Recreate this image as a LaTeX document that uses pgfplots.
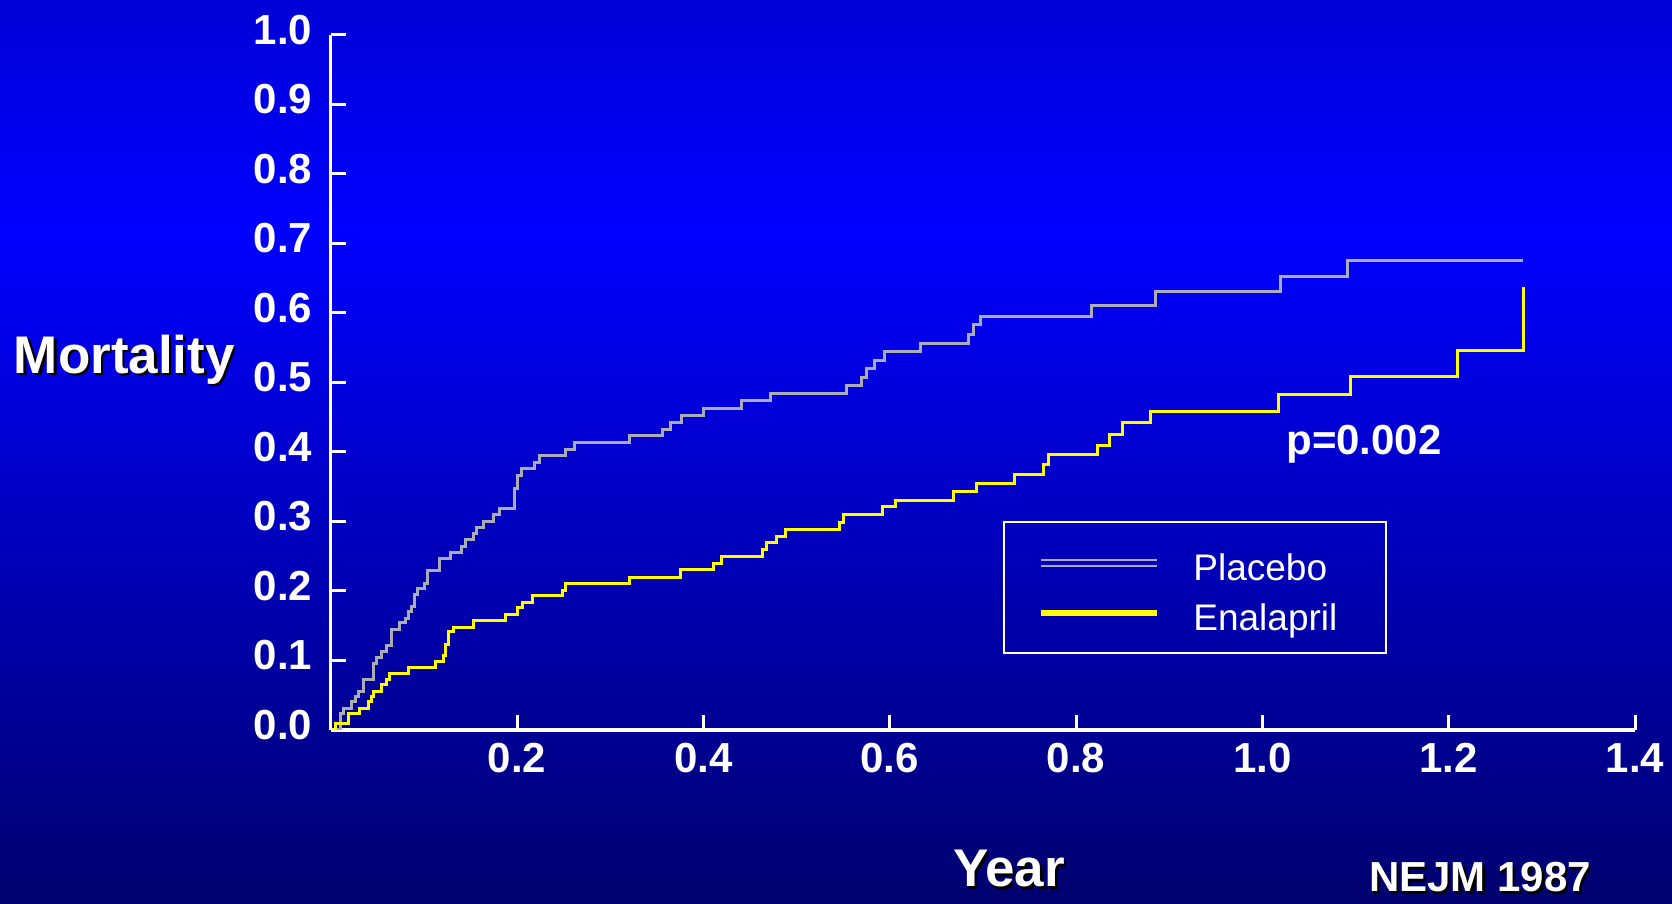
\documentclass[border=0pt]{standalone}
\usepackage{pgfplots}
\pgfplotsset{compat=1.18}
\usepackage{fontspec}
\setmainfont{Liberation Sans}
\definecolor{bgtop}{RGB}{0,0,215}
\definecolor{bgmid}{RGB}{0,0,255}
\definecolor{bgbot}{RGB}{0,0,110}
\definecolor{legbg}{RGB}{0,0,200}
\definecolor{plgray}{RGB}{172,172,182}
\definecolor{enyel}{RGB}{255,255,0}
\begin{document}
\begin{tikzpicture}
\useasboundingbox (0,0) rectangle (836pt,452pt);
\shade[top color=bgtop, bottom color=bgmid] (0,337pt) rectangle (836pt,452pt);
\shade[top color=bgmid, bottom color=bgbot] (0,0) rectangle (836pt,337.2pt);
\begin{axis}[
  at={(165.35pt,87pt)}, anchor=south west,
  scale only axis, width=652.2pt, height=347.5pt,
  xmin=0, xmax=1.4, ymin=0, ymax=1,
  axis x line=bottom, axis y line=left,
  axis line style={white, line width=1.75pt, -},
  tick style={white, line width=1.5pt},
  tick align=inside, major tick length=7.5pt,
  xtick={0.2,0.4,0.6,0.8,1.0,1.2,1.4},
  xticklabels={0.2,0.4,0.6,0.8,1.0,1.2,1.4},
  ytick={0,0.1,0.2,0.3,0.4,0.5,0.6,0.7,0.8,0.9,1.0},
  yticklabels={0.0,0.1,0.2,0.3,0.4,0.5,0.6,0.7,0.8,0.9,1.0},
  tick label style={font=\fontsize{21}{25}\selectfont\bfseries, text=white, inner sep=0pt},
  xticklabel style={anchor=north, yshift=-6.5pt},
  yticklabel style={anchor=east, xshift=-9pt, yshift=2.5pt},
  legend style={at={(axis cs:0.722,0.300)}, anchor=north west, draw=white, line width=1pt,
    fill=none, text=white, font=\fontsize{18.5}{22}\selectfont,
    inner xsep=16.3pt, inner ysep=8pt, row sep=0.5pt,
    cells={anchor=west, text height=19pt, text depth=4pt},
    /tikz/every odd column/.append style={column sep=14.2pt},
    /tikz/every even column/.append style={text width=78pt}},
]
\addplot[const plot, draw=plgray, line width=1.5pt,
  legend image code/.code={\draw[line width=1.2pt, draw=plgray, double=legbg, double distance=1.6pt] (0pt,0pt) -- (58pt,0pt);}]
coordinates {
(0,0) (0.011,0.024) (0.014,0.031) (0.022,0.041) (0.027,0.048) (0.030,0.055) (0.035,0.073)
(0.046,0.096) (0.049,0.105) (0.055,0.113) (0.060,0.121) (0.065,0.145) (0.074,0.154)
(0.080,0.161) (0.084,0.170) (0.087,0.178) (0.090,0.195) (0.093,0.203) (0.101,0.211)
(0.104,0.229) (0.117,0.247) (0.129,0.256) (0.140,0.264) (0.145,0.274) (0.153,0.283)
(0.156,0.292) (0.164,0.300) (0.175,0.310) (0.181,0.318) (0.197,0.347) (0.200,0.366)
(0.205,0.376) (0.219,0.385) (0.224,0.395) (0.252,0.404) (0.262,0.414) (0.321,0.424)
(0.356,0.433) (0.365,0.443) (0.376,0.453) (0.400,0.463) (0.441,0.474) (0.472,0.484)
(0.554,0.496) (0.570,0.507) (0.575,0.520) (0.584,0.531) (0.594,0.544) (0.633,0.556)
(0.685,0.569) (0.690,0.583) (0.697,0.595) (0.817,0.611) (0.885,0.631) (1.019,0.653)
(1.091,0.675) (1.280,0.675)
};
\addlegendentry{Placebo}
\addplot[const plot, draw=enyel, line width=1.5pt,
  legend image code/.code={\draw[line width=3pt, draw=enyel] (0pt,0pt) -- (58pt,0pt);}]
coordinates {
(0,0) (0.005,0.009) (0.019,0.024) (0.031,0.031) (0.041,0.041) (0.044,0.048) (0.046,0.056)
(0.055,0.065) (0.060,0.072) (0.063,0.081) (0.084,0.090) (0.113,0.099) (0.121,0.107)
(0.123,0.123) (0.126,0.141) (0.132,0.148) (0.153,0.157) (0.188,0.166) (0.200,0.176)
(0.206,0.184) (0.217,0.193) (0.249,0.201) (0.252,0.211) (0.321,0.220) (0.375,0.231)
(0.411,0.240) (0.419,0.250) (0.463,0.259) (0.468,0.270) (0.479,0.278) (0.488,0.288)
(0.546,0.298) (0.550,0.310) (0.592,0.321) (0.606,0.330) (0.668,0.343) (0.693,0.355)
(0.734,0.368) (0.765,0.382) (0.770,0.396) (0.823,0.410) (0.836,0.425) (0.850,0.442)
(0.880,0.458) (1.017,0.483) (1.094,0.508) (1.209,0.546) (1.280,0.638)
};
\addlegendentry{Enalapril}
\end{axis}
% labels with drop shadows
\node[font=\fontsize{26.5}{30}\selectfont\bfseries, text=black, anchor=base] at (63.4pt,264.1pt) {Mortality};
\node[font=\fontsize{26.5}{30}\selectfont\bfseries, text=white, anchor=base] at (62.2pt,265.3pt) {Mortality};
\node[font=\fontsize{26.5}{30}\selectfont\bfseries, text=black, anchor=base] at (505.7pt,7.3pt) {Year};
\node[font=\fontsize{26.5}{30}\selectfont\bfseries, text=white, anchor=base] at (504.5pt,8.5pt) {Year};
\node[font=\fontsize{21}{25}\selectfont\bfseries, text=black, anchor=base] at (741.2pt,4.8pt) {NEJM 1987};
\node[font=\fontsize{21}{25}\selectfont\bfseries, text=white, anchor=base] at (740pt,6pt) {NEJM 1987};
\node[font=\fontsize{21}{25}\selectfont\bfseries, text=white, anchor=base] at (682pt,224.5pt) {p=0.002};
\end{tikzpicture}
\end{document}
